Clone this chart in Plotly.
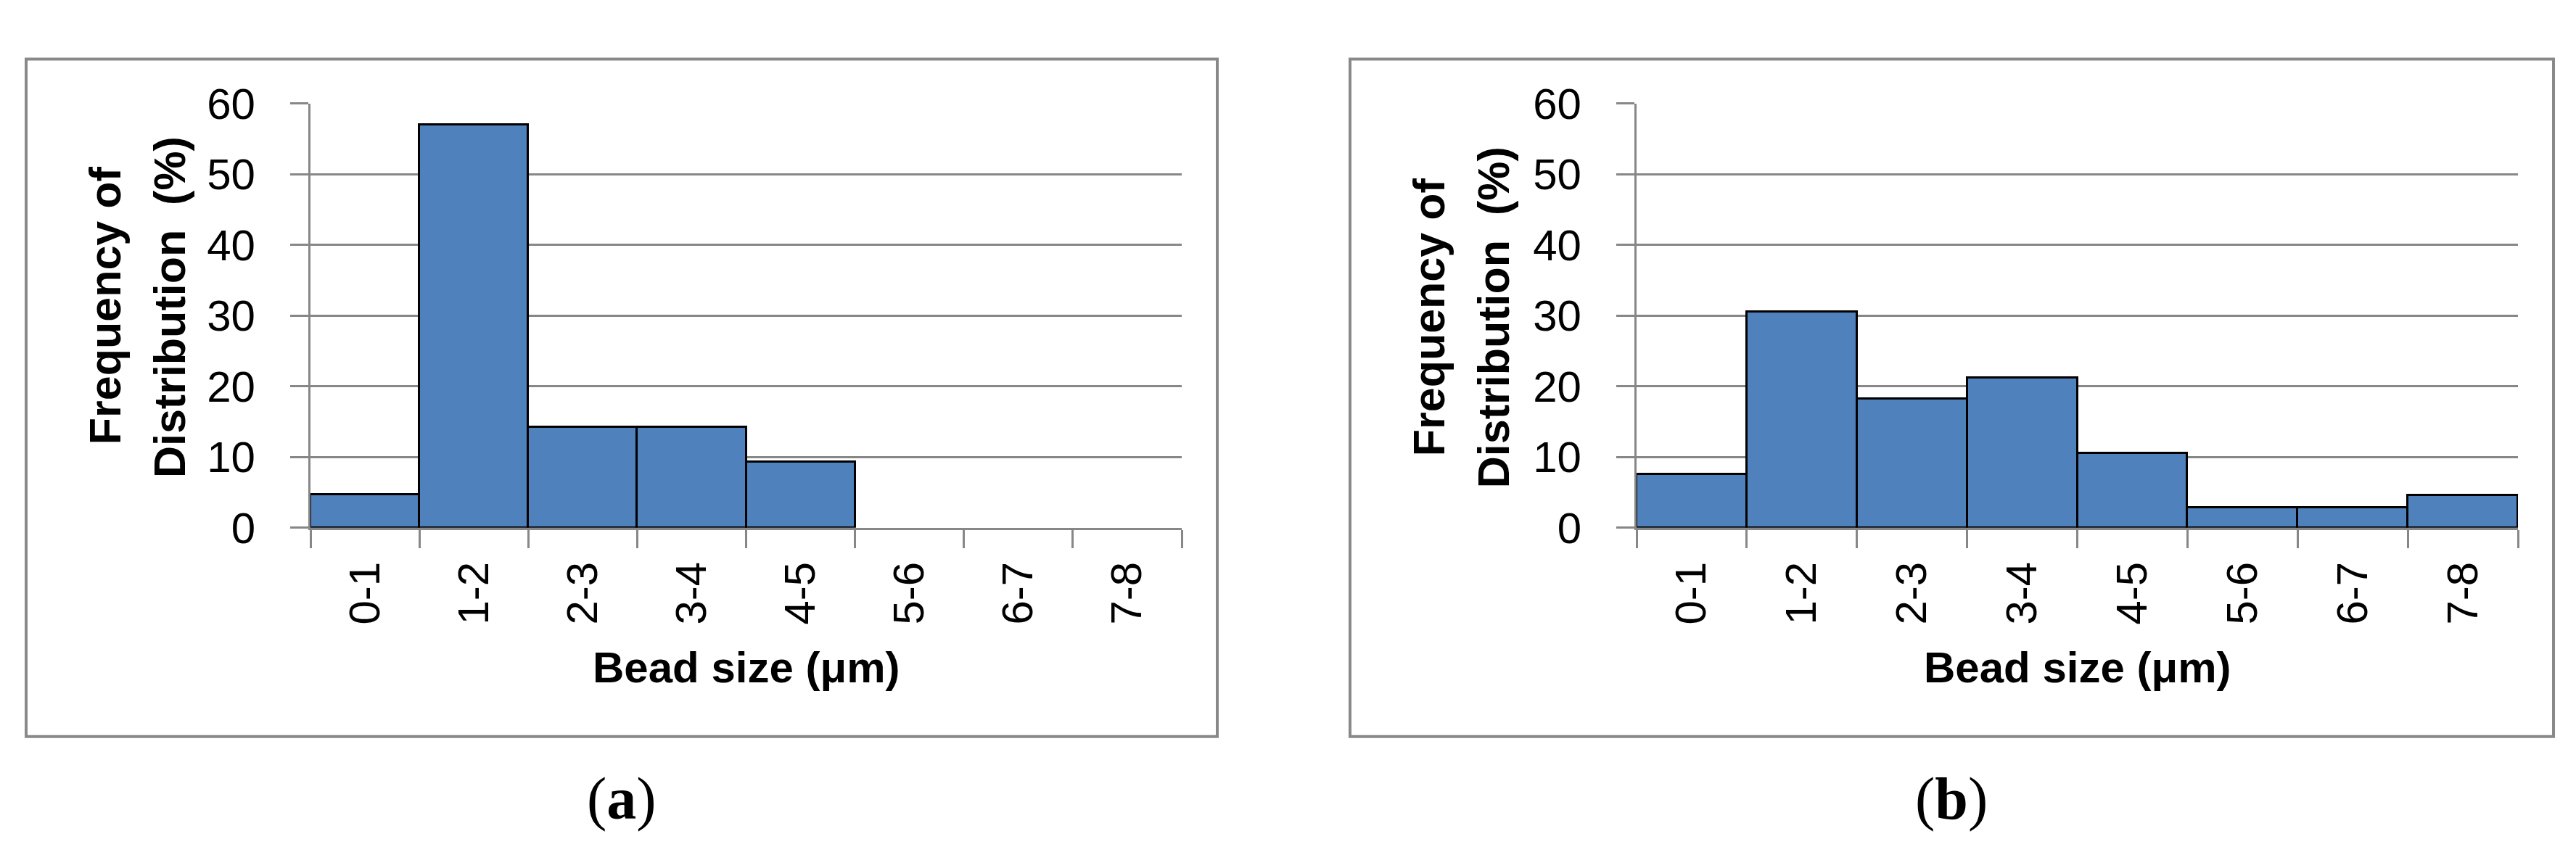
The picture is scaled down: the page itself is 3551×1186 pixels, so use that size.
import plotly.graph_objects as go

# ---- data ----
categories = ["0-1", "1-2", "2-3", "3-4", "4-5", "5-6", "6-7", "7-8"]
freq_a = [4.7, 57.0, 14.3, 14.3, 9.3, 0, 0, 0]
freq_b = [7.6, 30.6, 18.3, 21.2, 10.6, 2.9, 2.9, 4.6]
y_ticks = [0, 10, 20, 30, 40, 50, 60]
y_title_line1 = "Frequency of"
y_title_line2 = "Distribution\u00a0 (%)"
x_title = "Bead size (μm)"
panel_labels = ["a", "b"]

# ---- layout helpers ----
W, H = 3551, 1186


def px(x):
    return x / W


def py(y):
    return 1 - y / H


BLUE = "#4F81BD"
GRID = "#878787"
BOX = "#898989"
FONT = "Liberation Sans"

panels = [
    dict(plot=(420, 1621, 108, 728), box=(28, 43, 1670, 1033),
         t1=(137, 403), t2=(226, 406), xt=(1021, 932), lab=(849, 1124)),
    dict(plot=(2248, 3463, 108, 728), box=(1853, 43, 3512, 1033),
         t1=(1962, 420), t2=(2051, 421), xt=(2856, 932), lab=(2682, 1124)),
]

fig = go.Figure()
series = [freq_a, freq_b]
annotations = []
shapes = []
layout_axes = {}

for i, (vals, p) in enumerate(zip(series, panels)):
    xa = "x" if i == 0 else "x2"
    ya = "y" if i == 0 else "y2"
    fig.add_trace(go.Bar(
        x=categories,
        y=[v if v > 0 else None for v in vals],
        xaxis=xa, yaxis=ya,
        width=1,
        marker=dict(color=BLUE, line=dict(color="black", width=3)),
        showlegend=False,
        hoverinfo="x+y",
    ))
    x0, x1, y0, y1 = p["plot"]
    xkey = "xaxis" if i == 0 else "xaxis2"
    ykey = "yaxis" if i == 0 else "yaxis2"
    layout_axes[xkey] = dict(
        domain=[px(x0), px(x1)], anchor=ya,
        type="category", tickson="boundaries",
        ticks="outside", ticklen=25, tickwidth=3, tickcolor=GRID,
        showline=True, linecolor=GRID, linewidth=3,
        showgrid=False, zeroline=False,
        tickangle=-90, ticklabelstandoff=20,
        tickfont=dict(family=FONT, size=60, color="black"),
        range=[-0.5, len(categories) - 0.5],
        fixedrange=True,
    )
    layout_axes[ykey] = dict(
        domain=[py(y1), py(y0)], anchor=xa,
        range=[0, 60], tickvals=y_ticks,
        ticks="outside", ticklen=25, tickwidth=3, tickcolor=GRID,
        showline=True, linecolor=GRID, linewidth=3,
        showgrid=True, gridcolor=GRID, gridwidth=3, zeroline=False,
        ticklabelstandoff=36,
        tickfont=dict(family=FONT, size=60, color="black"),
        fixedrange=True,
    )
    bx0, by0, bx1, by1 = p["box"]
    shapes.append(dict(type="rect", xref="paper", yref="paper",
                       x0=px(bx0), x1=px(bx1), y0=py(by1), y1=py(by0),
                       line=dict(color=BOX, width=4), layer="below"))
    annotations.append(dict(text="<b>%s</b>" % y_title_line1, xref="paper", yref="paper",
                            x=px(p["t1"][0]), y=py(p["t1"][1]), xanchor="center", yanchor="middle",
                            textangle=-90, showarrow=False,
                            font=dict(family=FONT, size=61, color="black")))
    annotations.append(dict(text="<b>%s</b>" % y_title_line2, xref="paper", yref="paper",
                            x=px(p["t2"][0]), y=py(p["t2"][1]), xanchor="center", yanchor="middle",
                            textangle=-90, showarrow=False,
                            font=dict(family=FONT, size=61, color="black")))
    annotations.append(dict(text="<b>%s</b>" % x_title, xref="paper", yref="paper",
                            x=px(p["xt"][0]), y=py(p["xt"][1]), xanchor="center", yanchor="middle",
                            showarrow=False,
                            font=dict(family=FONT, size=60, color="black")))
    annotations.append(dict(text="(<b>%s</b>)" % panel_labels[i], xref="paper", yref="paper",
                            x=px(p["lab"][0]), y=py(p["lab"][1]), xanchor="center", yanchor="middle",
                            showarrow=False,
                            font=dict(family="Liberation Serif", size=82, color="black")))

fig.update_layout(
    width=W, height=H, autosize=False,
    margin=dict(l=0, r=0, t=0, b=0, pad=0),
    paper_bgcolor="white", plot_bgcolor="white",
    bargap=0,
    annotations=annotations,
    shapes=shapes,
    **layout_axes,
)

fig.write_html("out.html", config=dict(displayModeBar=False))
